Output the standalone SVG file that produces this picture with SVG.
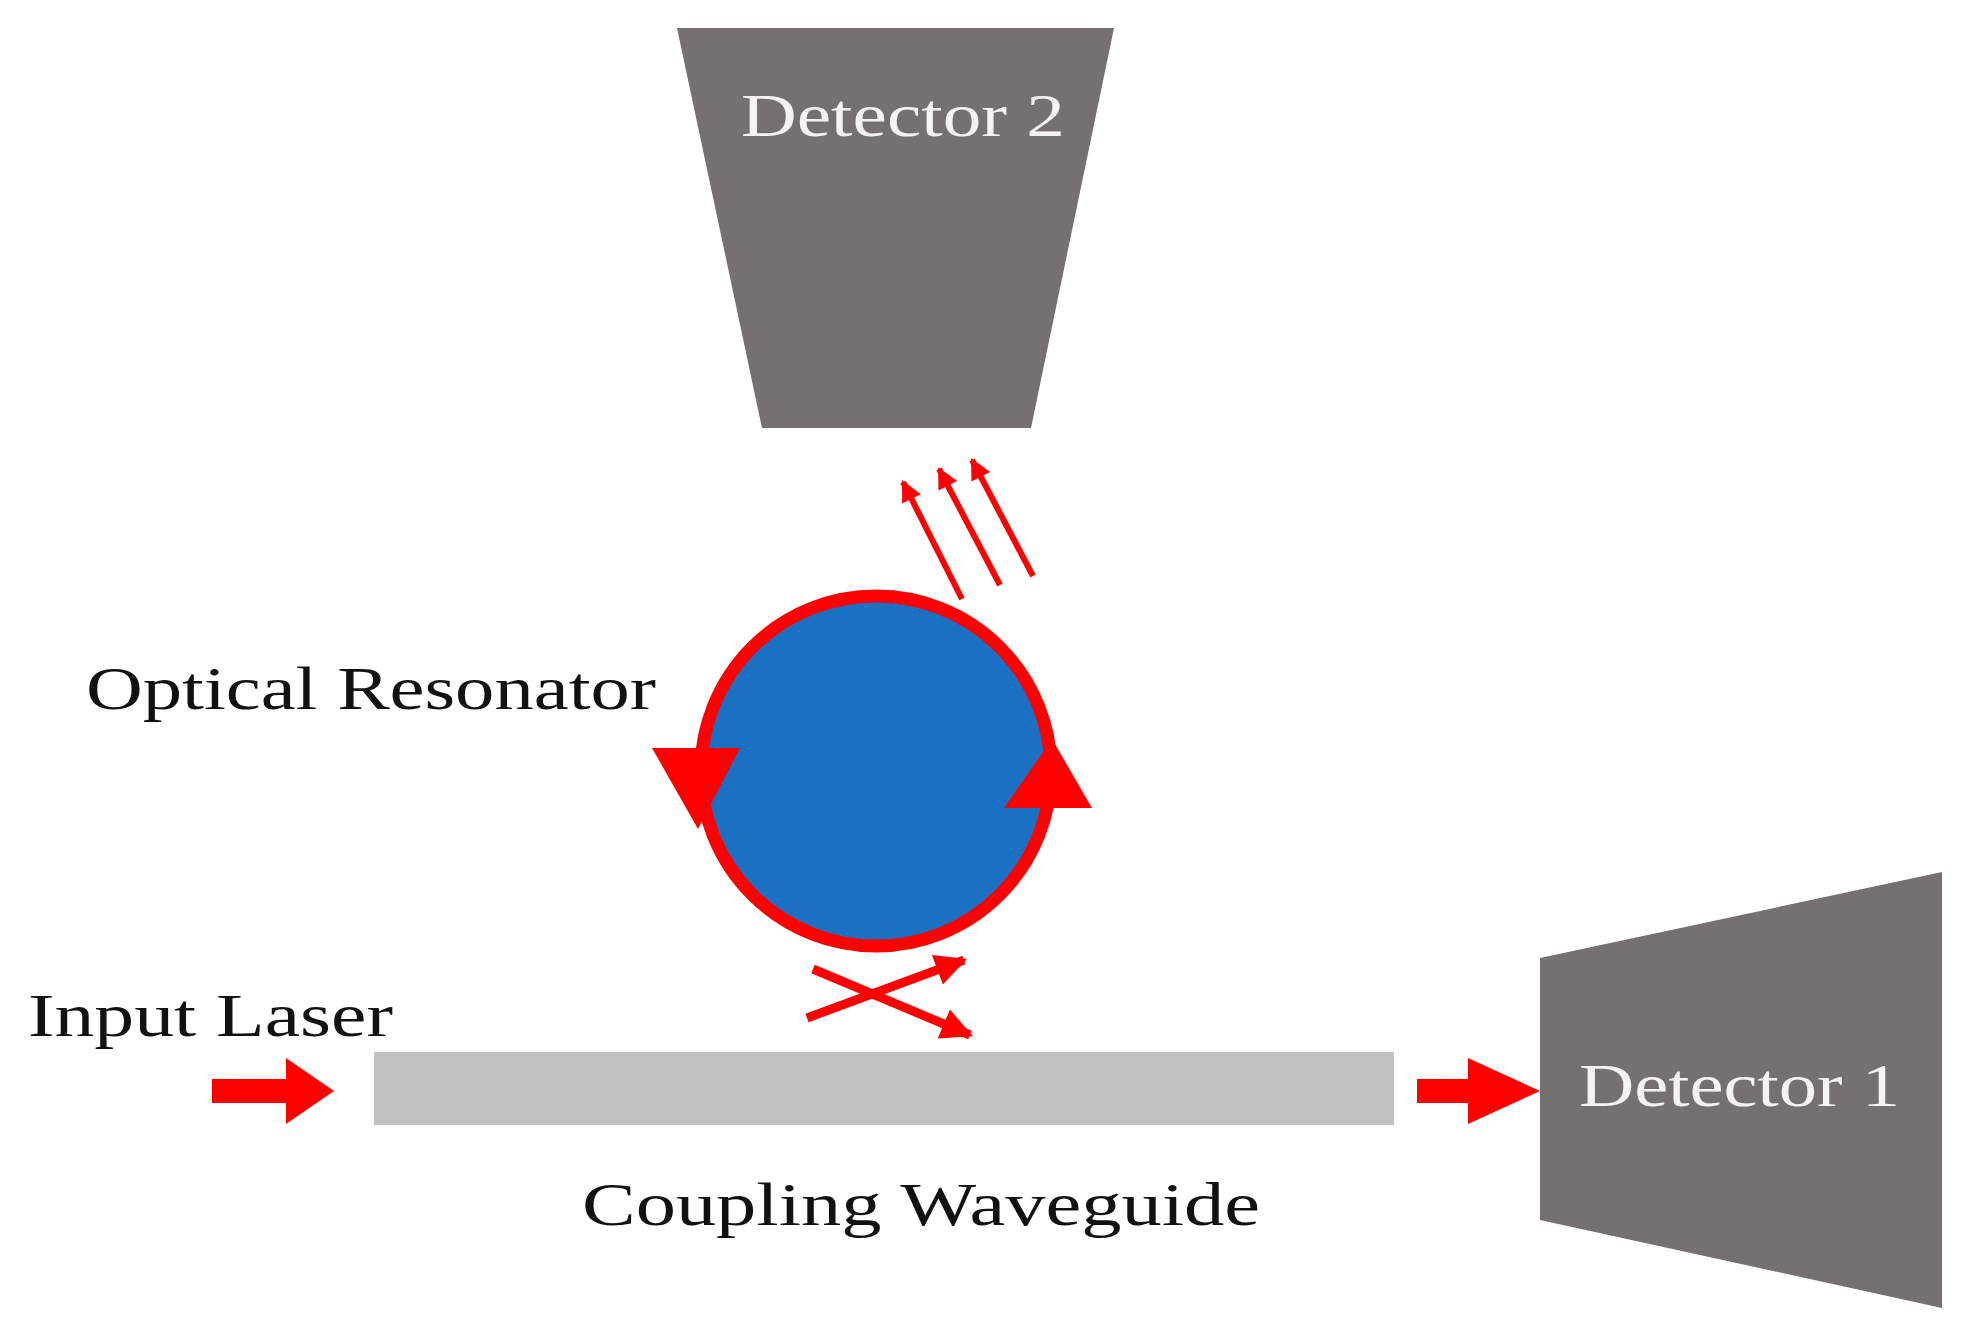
<svg xmlns="http://www.w3.org/2000/svg" width="1967" height="1340" viewBox="0 0 1967 1340">
<style>
.t{font-family:"Liberation Serif","DejaVu Serif",serif;font-size:62px;fill:#111}
.d{font-family:"Liberation Serif","DejaVu Serif",serif;font-size:62px;fill:#f4f4f4}
.r{stroke:#ff0000;fill:none}
</style>
<defs>
<marker id="h" viewBox="0 0 10 10" refX="9" refY="5" markerWidth="4" markerHeight="3.5" orient="auto" markerUnits="strokeWidth"><path d="M0,0L10,5L0,10z" fill="#ff0000"/></marker>
</defs>
<rect width="1967" height="1340" fill="#fff"/>
<g id="detector2"><polygon points="677,28 1114,28 1031,428 762,428" fill="#767171"/><text class="d" x="741" y="136" textLength="324" lengthAdjust="spacingAndGlyphs">Detector 2</text></g>
<g id="detector1"><polygon points="1540,958 1942,872 1942,1308 1540,1220" fill="#767171"/><text class="d" x="1579" y="1106" textLength="321" lengthAdjust="spacingAndGlyphs">Detector 1</text></g>
<g id="resonator"><circle cx="876" cy="771" r="175" fill="#1a71c4" stroke="#ff0000" stroke-width="13"/>
<polygon points="652,748 740,748 698,829" fill="#ff0000"/><polygon points="1004,808 1092,808 1052,739" fill="#ff0000"/>
<text class="t" x="86" y="709" textLength="570" lengthAdjust="spacingAndGlyphs">Optical Resonator</text></g>
<g id="waveguide"><rect x="374" y="1052" width="1020" height="73" fill="#c0c0c0"/><text class="t" x="582" y="1225" textLength="678" lengthAdjust="spacingAndGlyphs">Coupling Waveguide</text></g>
<g id="input"><text class="t" x="28" y="1036" textLength="365" lengthAdjust="spacingAndGlyphs">Input Laser</text></g>
<g id="connectors">
<polygon points="212,1079 286,1079 286,1058 334,1091 286,1124 286,1103 212,1103" fill="#ff0000"/>
<polygon points="1417,1079 1468,1079 1468,1058 1540,1091 1468,1124 1468,1103 1417,1103" fill="#ff0000"/>
<g class="r" stroke-width="6" marker-end="url(#h)"><line x1="962" y1="599" x2="903" y2="482"/><line x1="1000" y1="585" x2="939" y2="469"/><line x1="1033" y1="576" x2="972" y2="460"/></g>
<g class="r" stroke-width="9" marker-end="url(#h)"><line x1="807" y1="1018" x2="964" y2="960"/><line x1="813" y1="969" x2="970" y2="1035"/></g>
</g>
</svg>
